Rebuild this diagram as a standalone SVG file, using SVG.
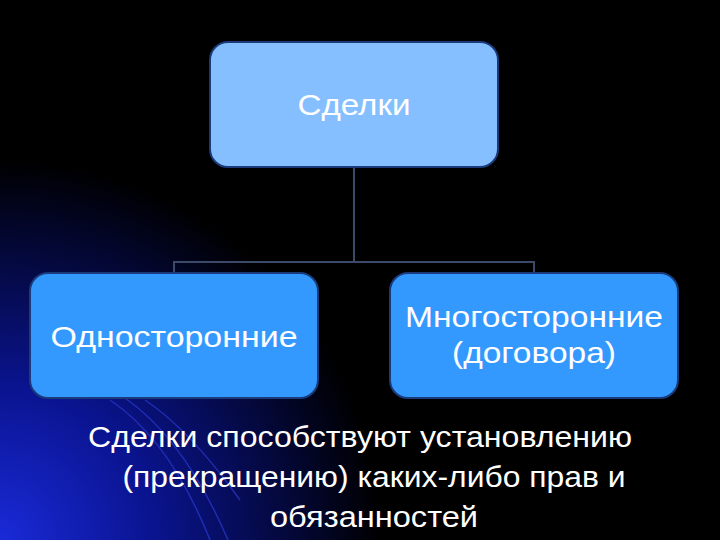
<svg xmlns="http://www.w3.org/2000/svg" width="720" height="540" viewBox="0 0 720 540">
<defs>
<radialGradient id="bg" cx="0" cy="540" r="380" gradientUnits="userSpaceOnUse">
<stop offset="0" stop-color="#1a2ad8"/><stop offset="0.4" stop-color="#0a1490"/><stop offset="1" stop-color="#000000"/>
</radialGradient>
<style>
.box{stroke:#1a3a7a;stroke-width:2}
.t{font-family:"Liberation Sans",Arial,sans-serif;fill:#fff;text-anchor:middle}
.c{stroke:#3a4a68;stroke-width:2;fill:none}
</style>
</defs>
<rect width="720" height="540" fill="#000"/>
<rect width="720" height="540" fill="url(#bg)"/>
<g stroke="#2a3ad0" stroke-width="1.5" fill="none" opacity="0.7">
<path d="M110 400 Q170 440 210 540"/><path d="M125 398 Q185 440 228 540"/><path d="M145 400 Q190 430 240 500"/>
</g>
<g id="connectors">
<path class="c" d="M354 167 V262 M174 273 V262 H534 V273"/>
</g>
<g id="n-top"><rect class="box" x="210" y="42" width="288" height="125" rx="18" fill="#86bfff"/><text class="t" x="354" y="115" font-size="29" textLength="113" lengthAdjust="spacingAndGlyphs">Сделки</text></g>
<g id="n-left"><rect class="box" x="30" y="273" width="288" height="125" rx="18" fill="#3399ff"/><text class="t" x="174" y="347" font-size="29" textLength="247" lengthAdjust="spacingAndGlyphs">Односторонние</text></g>
<g id="n-right"><rect class="box" x="390" y="273" width="288" height="125" rx="18" fill="#3399ff"/><text class="t" x="534" y="327" font-size="29" textLength="258" lengthAdjust="spacingAndGlyphs">Многосторонние</text><text class="t" x="534" y="363" font-size="29" textLength="164" lengthAdjust="spacingAndGlyphs">(договора)</text></g>
<g id="caption">
<text class="t" x="360" y="447" font-size="30" textLength="544" lengthAdjust="spacingAndGlyphs">Сделки способствуют установлению</text>
<text class="t" x="374" y="487" font-size="30" textLength="503" lengthAdjust="spacingAndGlyphs">(прекращению) каких-либо прав и</text>
<text class="t" x="374" y="527" font-size="30" textLength="208" lengthAdjust="spacingAndGlyphs">обязанностей</text>
</g>
</svg>
